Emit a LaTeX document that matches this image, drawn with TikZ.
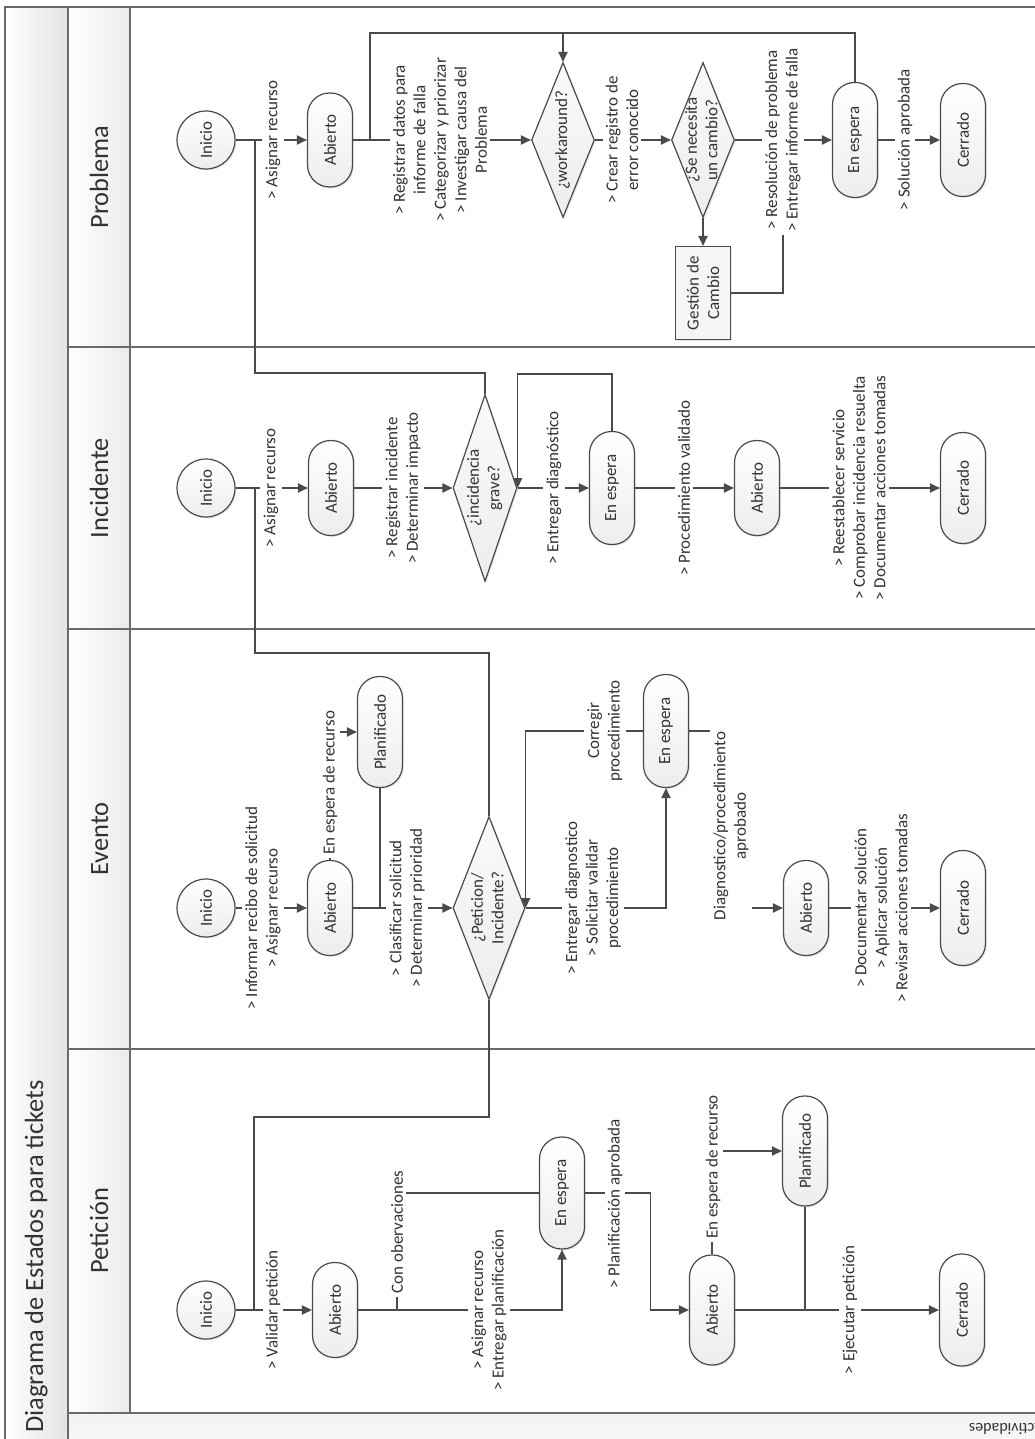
\documentclass[tikz,border=0pt]{standalone}
\usepackage{fontspec}
\setmainfont{Carlito}
\usetikzlibrary{shapes.geometric,arrows.meta,shadows}
\definecolor{lc}{HTML}{4A4A4A}
\definecolor{tc}{HTML}{333333}
\definecolor{fr}{HTML}{6A6A6A}
\pgfdeclarelayer{lanes}
\pgfdeclarelayer{conn}
\pgfsetlayers{lanes,conn,main}
\newcommand{\ctext}[1]{\makebox[0pt]{\begin{tabular}{@{}c@{}}#1\end{tabular}}}
\begin{document}
\begin{tikzpicture}[x=0.5pt,y=-0.5pt,
  ln/.style={draw=lc,line width=0.75pt},
  arr/.style={ln,-{Triangle[length=5pt,width=4.6pt]}},
  nbase/.style={rotate=90,draw=lc,line width=0.6pt,text=tc,align=center,
     font=\fontsize{8.5}{10.25}\selectfont,inner sep=0pt,
     drop shadow={opacity=0.18,shadow xshift=0.7pt,shadow yshift=-0.7pt}},
  state/.style={nbase,rounded corners=11pt,minimum height=22.5pt,top color=white,bottom color=gray!14},
  inicio/.style={nbase,circle,minimum size=29pt,top color=white,bottom color=gray!14},
  dia/.style={nbase,diamond,top color=gray!4,bottom color=gray!14},
  gest/.style={nbase,rectangle,minimum width=46.5pt,minimum height=27.5pt,fill=gray!8},
  lbl/.style={rotate=90,fill=white,text=tc,align=center,inner sep=1.6pt,
     font=\fontsize{8.5}{10.25}\selectfont},
  hdr/.style={rotate=90,anchor=base,inner sep=0pt,text=tc,font=\fontsize{13.2}{15}\selectfont}
]
\useasboundingbox (0,0) rectangle (1034,1439);

% ---------- frame / lanes ----------
\begin{pgfonlayer}{lanes}
\fill[white] (0,0) rectangle (1034,1439);
\shade[left color=white,right color=gray!22] (5,7) rectangle (68,1445);
\shade[left color=white,right color=gray!16] (68,7) rectangle (130,1413);
\shade[top color=gray!10,bottom color=gray!5] (68,1413) rectangle (1040,1445);
\draw[fr,line width=0.8pt] (5,1445) -- (5,7) -- (1040,7);
\draw[fr,line width=0.8pt] (68,7) -- (68,1445);
\draw[fr,line width=0.8pt] (130,7) -- (130,1413);
\draw[fr,line width=1pt] (68,347) -- (1040,347);
\draw[fr,line width=1pt] (68,629) -- (1040,629);
\draw[fr,line width=1pt] (68,1049) -- (1040,1049);
\draw[fr,line width=1pt] (68,1413) -- (1040,1413);
\end{pgfonlayer}

\node[rotate=90,anchor=base west,inner sep=0pt,text=tc,font=\fontsize{13.2}{15}\selectfont] (title) at (43,1433) {Diagrama de Estados para tickets};
\node[hdr] (hP) at (108,177) {Problema};
\node[hdr] (hI) at (108,488) {Incidente};
\node[hdr] (hE) at (108,839) {Evento};
\node[hdr] (hT) at (108,1231) {Petición};
\node[rotate=180,anchor=base west,inner sep=0pt,text=tc,font=\fontsize{8}{9}\selectfont] (act) at (1044,1423) {Actividades};

% ---------- Problema ----------
\node[inicio] (pIni) at (206,140) {Inicio};
\node[state,minimum width=47pt] (pAb) at (330,140) {Abierto};
\node[dia,minimum width=77.5pt,minimum height=31.5pt] (pWork) at (563,140) {\ctext{¿workaround?}};
\node[dia,minimum width=77.5pt,minimum height=31.5pt] (pCamb) at (703,140) {\ctext{¿Se necesita\\un cambio?}};
\node[gest] (pGest) at (703,293) {Gestión de\\Cambio};
\node[state,minimum width=57.5pt] (pEsp) at (855,140) {En espera};
\node[state,minimum width=56.5pt] (pCer) at (963,140) {Cerrado};
\node[lbl] (lP1) at (273,140) {> Asignar recurso};
\node[lbl] (lP2) at (440,140) {> Registrar datos para\\informe de falla\\> Categorizar y priorizar\\> Investigar causa del\\Problema};
\node[lbl] (lP3) at (622,140) {> Crear registro de\\error conocido};
\node[lbl] (lP4) at (783,140) {> Resolución de problema\\> Entregar informe de falla};
\node[lbl] (lP5) at (905,140) {> Solución aprobada};
\coordinate (pj1) at (255,140);
\coordinate (pj2) at (370,140);
\coordinate (ptop) at (563,33);

% ---------- Incidente ----------
\node[inicio] (iIni) at (206,488) {Inicio};
\node[state,minimum width=47.5pt] (iAb) at (331,488) {Abierto};
\node[dia,minimum width=93.5pt,minimum height=32pt] (iDia) at (485,488) {\ctext{¿incidencia\\grave?}};
\node[state,minimum width=56.5pt] (iEsp) at (612,488) {En espera};
\node[state,minimum width=47.5pt] (iAb2) at (757,488) {Abierto};
\node[state,minimum width=55.5pt] (iCer) at (963,488) {Cerrado};
\node[lbl] (lI1) at (271,488) {> Asignar recurso};
\node[lbl] (lI2) at (403,488) {> Registrar incidente\\> Determinar impacto};
\node[lbl] (lI3) at (554,488) {> Entregar diagnóstico};
\node[lbl] (lI4) at (684,488) {> Procedimiento validado};
\node[lbl] (lI5) at (859,488) {> Reestablecer servicio\\> Comprobar incidencia resuelta\\> Documentar acciones tomadas};
\coordinate (ij1) at (255,488);

% ---------- Evento ----------
\node[inicio] (eIni) at (206,908) {Inicio};
\node[state,minimum width=47.5pt] (eAb) at (330,908) {Abierto};
\node[state,minimum width=55.5pt] (ePlan) at (380,732) {Planificado};
\node[dia,minimum width=91.5pt,minimum height=36pt] (eDia) at (489,908) {\ctext{¿Peticion/\\Incidente?}};
\node[state,minimum width=56.5pt] (eEsp) at (666,731) {En espera};
\node[state,minimum width=47.5pt] (eAb2) at (806,908) {Abierto};
\node[state,minimum width=57.5pt] (eCer) at (963,908) {Cerrado};
\node[lbl] (lE1) at (263,908) {> Informar recibo de solicitud\\> Asignar recurso};
\node[lbl] (lE2) at (330,783) {En espera de recurso};
\node[lbl] (lE3) at (407,908) {> Clasificar solicitud\\> Determinar prioridad};
\node[lbl] (lE4) at (593,898) {> Entregar diagnostico\\> Solicitar validar\\procedimiento};
\node[lbl] (lE5) at (605,731) {Corregir\\procedimiento};
\node[lbl] (lE6) at (731,826) {Diagnostico/procedimiento\\aprobado};
\node[lbl] (lE7) at (881,908) {> Documentar solución\\> Aplicar solución\\> Revisar acciones tomadas};
\coordinate (ej) at (380,908);

% ---------- Petición ----------
\node[inicio] (tIni) at (206,1310) {Inicio};
\node[state,minimum width=47.5pt] (tAb) at (335,1310) {Abierto};
\node[state,minimum width=56pt] (tEsp) at (562,1193) {En espera};
\node[state,minimum width=55pt] (tAb2) at (712,1310) {Abierto};
\node[state,minimum width=55pt] (tPlan) at (805,1151) {Planificado};
\node[state,minimum width=56pt] (tCer) at (962,1310) {Cerrado};
\node[lbl] (lT1) at (273,1310) {> Validar petición};
\node[lbl] (lT2) at (397,1232) {Con obervaciones};
\node[lbl] (lT3) at (489,1310) {> Asignar recurso\\> Entregar planificación};
\node[lbl] (lT4) at (615,1204) {> Planificación aprobada};
\node[lbl] (lT5) at (713,1167) {En espera de recurso};
\node[lbl] (lT6) at (850,1310) {> Ejecutar petición};
\coordinate (tj) at (254,1310);
\coordinate (tj2) at (397,1310);
\coordinate (tj3) at (805,1310);

% ---------- connectors ----------
\begin{pgfonlayer}{conn}
% Problema
\draw[arr] (pIni) -- (pAb);
\draw[ln] (pj1) -- ++(0,233) -| (iDia.east);
\draw[arr] (pAb) -- (pWork);
\draw[ln] (pj2) |- (ptop) -| (pEsp.east);
\draw[arr] (ptop) -- (pWork.east);
\draw[arr] (pWork) -- (pCamb);
\draw[arr] (pCamb) -- (pGest);
\draw[arr] (pCamb) -- (pEsp);
\draw[ln] (pGest.south) -| (lP4.west);
\draw[arr] (pEsp) -- (pCer);
% Incidente
\draw[arr] (iIni) -- (iAb);
\draw[ln] (ij1) -- ++(0,165) -| (eDia.east);
\draw[arr] (iAb) -- (iDia);
\draw[arr] (iDia) -- (iEsp);
\draw[arr] (iEsp.east) -- ++(0,-57) -| (iDia.south);
\draw[arr] (iEsp) -- (iAb2);
\draw[arr] (iAb2) -- (iCer);
% Evento
\draw[arr] (eIni) -- (eAb);
\draw[arr] (eAb.east) |- (ePlan.north);
\draw[ln] (ePlan.west) -- (ej);
\draw[arr] (eAb) -- (eDia);
\draw[arr] (eDia.south) -| (eEsp.west);
\draw[arr] (eEsp.north) -| (eDia.south);
\draw[arr] (eEsp.south) -- ++(41.5,0) |- (eAb2.north);
\draw[arr] (eAb2) -- (eCer);
\draw[ln] (tj) -- ++(0,-193) -| (eDia.west);
% Peticion
\draw[arr] (tIni) -- (tAb);
\draw[arr] (tAb.south) -| (tEsp.west);
\draw[ln] (tj2) |- (tEsp.north);
\draw[arr] (tEsp.south) -- ++(65.5,0) |- (tAb2.north);
\draw[arr] (tAb2.east) |- (tPlan.north);
\draw[arr] (tAb2) -- (tCer);
\draw[ln] (tPlan.west) -- (tj3);
\end{pgfonlayer}
\end{tikzpicture}
\end{document}
